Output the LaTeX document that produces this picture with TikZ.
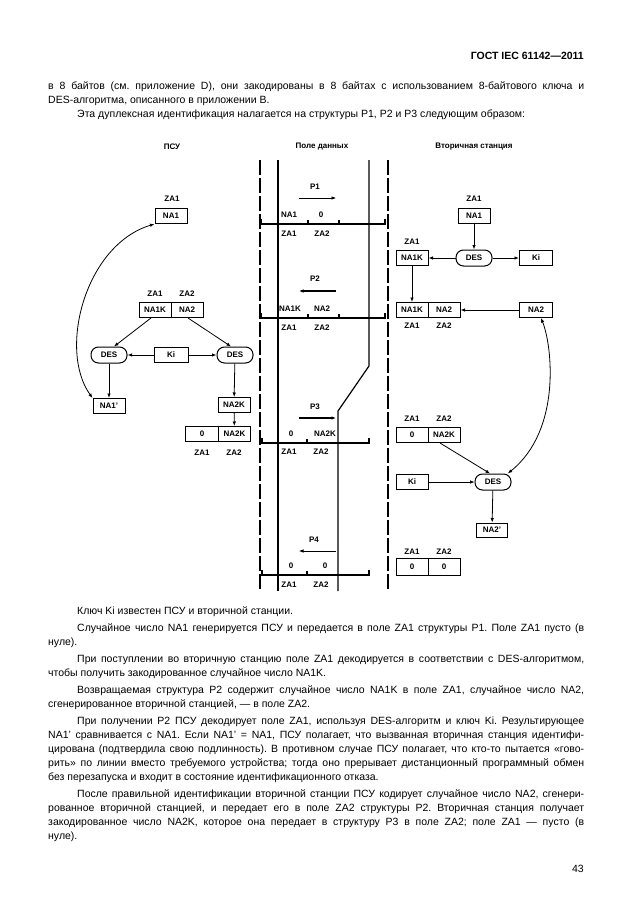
\documentclass[tikz,border=0pt]{standalone}
\usepackage{fontspec}
\setmainfont{Liberation Sans}
\usetikzlibrary{arrows.meta,positioning}
\frenchspacing

\newcommand{\lblfont}{\fontsize{8}{9}\selectfont\bfseries}
\newcommand{\txtfont}{\fontsize{10.5}{14}\selectfont}

\begin{document}
\begin{tikzpicture}[x=1pt, y=-1pt,
    fld/.style={draw, line width=1pt, minimum width=32pt, minimum height=15pt,
                inner sep=0pt, font=\lblfont},
    des/.style={draw, line width=1pt, rounded corners=7.5pt, minimum width=36pt,
                minimum height=16pt, inner sep=0pt, font=\lblfont},
    lbl/.style={inner sep=0pt, font=\lblfont},
    txt/.style={inner sep=0pt, text width=536pt, align=justify,
                font=\txtfont\setlength{\parindent}{0pt}},
    arrow/.style={-{Latex[length=4.5pt,width=3.5pt]}, line width=0.8pt},
    dblarrow/.style={{Latex[length=4.5pt,width=3.5pt]}-{Latex[length=4.5pt,width=3.5pt]}, line width=0.8pt},
    parrow/.style={-{Latex[length=4.5pt,width=3.5pt]}},
    vline/.style={line width=1.2pt},
    dline/.style={line width=1.2pt, dash pattern=on 15pt off 3pt},
    bar/.style={line width=1.2pt},
  ]
  \useasboundingbox (0,0) rectangle (630,913);

  % page text
  \node[inner sep=0pt, anchor=base east, font=\fontsize{10.5}{12}\selectfont\bfseries]
    (tHead) at (584,59) {ГОСТ IEC 61142—2011};
  \node[txt, anchor=base west] (tTop) at (48,89)
    {в 8 байтов (см. приложение D), они закодированы в 8 байтах с использованием 8-байтового ключа и\linebreak
     DES-алгоритма, описанного в приложении В.\par
     \hspace*{29pt}Эта дуплексная идентификация налагается на структуры P1, P2 и P3 следующим образом:};

  % headings
  \node[lbl] (hPsu) at (172,147) {ПСУ};
  \node[lbl] (hData) at (322,147) {Поле данных};
  \node[lbl] (hSec) at (474,147) {Вторичная станция};

  % data field lines
  \draw[dline] (260,160) -- (260,591);
  \draw[vline] (278,160) -- (278,591);
  \draw[vline] (369,160) -- (369,366) -- (338,411) -- (338,591);
  \draw[dline] (388,160) -- (388,591);

  % P1
  \node[lbl] (p1) at (315,187) {P1};
  \coordinate (p1a) at (299,198);
  \coordinate (p1b) at (336,198);
  \draw[parrow, line width=0.6pt] (p1a) -- (p1b);
  \draw[bar] (261,219) -- (261,224) -- (385,224) -- (385,219);
  \foreach \x in {308,339} \draw[bar] (\x,224) -- (\x,219.5);
  \node[lbl] (d1a) at (289,215) {NA1};
  \node[lbl] (d1b) at (321,215) {0};
  \node[lbl] (z1a) at (289,234) {ZA1};
  \node[lbl] (z1b) at (322,234) {ZA2};

  % P2
  \node[lbl] (p2) at (315,279) {P2};
  \coordinate (p2a) at (336,291);
  \coordinate (p2b) at (299,291);
  \draw[parrow, line width=1.3pt] (p2a) -- (p2b);
  \draw[bar] (261,313) -- (261,318) -- (385,318) -- (385,313);
  \foreach \x in {308,339} \draw[bar] (\x,318) -- (\x,313.5);
  \node[lbl] (d2a) at (290,309) {NA1K};
  \node[lbl] (d2b) at (322,309) {NA2};
  \node[lbl] (z2a) at (289,328) {ZA1};
  \node[lbl] (z2b) at (322,328) {ZA2};

  % P3
  \node[lbl] (p3) at (315,407) {P3};
  \coordinate (p3a) at (299,418);
  \coordinate (p3b) at (336,418);
  \draw[parrow, line width=1.3pt] (p3a) -- (p3b);
  \draw[bar] (262,438) -- (262,443) -- (369,443) -- (369,438);
  \draw[bar] (307,443) -- (307,438.5);
  \node[lbl] (d3a) at (291,434) {0};
  \node[lbl] (d3b) at (325,434) {NA2K};
  \node[lbl] (z3a) at (289,452) {ZA1};
  \node[lbl] (z3b) at (321,452) {ZA2};

  % P4
  \node[lbl] (p4) at (314,540) {P4};
  \coordinate (p4a) at (336,551);
  \coordinate (p4b) at (299,551);
  \draw[parrow, line width=0.6pt] (p4a) -- (p4b);
  \draw[bar] (262,570) -- (262,575) -- (369,575) -- (369,570);
  \draw[bar] (307,575) -- (307,570.5);
  \node[lbl] (d4a) at (291,566) {0};
  \node[lbl] (d4b) at (325,566) {0};
  \node[lbl] (z4a) at (289,585) {ZA1};
  \node[lbl] (z4b) at (321,585) {ZA2};

  % PSU side
  \node[lbl] (lz1) at (172,199) {ZA1};
  \node[fld] (lNA) at (171,216) {NA1};
  \node[lbl] (lz2a) at (155,294) {ZA1};
  \node[lbl] (lz2b) at (187,294) {ZA2};
  \node[fld] (lNAK) at (155,310) {NA1K};
  \node[fld] (lNAb) at (187,310) {NA2};
  \node[des] (lDESa) at (109,355) {DES};
  \node[fld, minimum width=34pt] (lKi) at (171,355) {Ki};
  \node[des] (lDESb) at (235,355) {DES};
  \node[fld] (lNAp) at (109,406) {NA1'};
  \node[fld] (lNAK2) at (234,405) {NA2K};
  \node[fld, minimum width=33pt] (lf0) at (202,434) {0};
  \node[fld] (lfK) at (234.5,434) {NA2K};
  \node[lbl] (lz3a) at (202,453) {ZA1};
  \node[lbl] (lz3b) at (234,453) {ZA2};

  \draw[arrow] ([xshift=-4pt]lNAK.south) -- ([xshift=5pt]lDESa.north);
  \draw[arrow] ([xshift=1pt]lNAb.south) -- ([xshift=-4pt]lDESb.north);
  \draw[arrow] (lKi) -- (lDESa);
  \draw[arrow] (lKi) -- (lDESb);
  \draw[arrow] (lDESa) -- (lNAp);
  \draw[arrow] (lDESb) -- (lNAK2);
  \draw[arrow] (lNAK2) -- (lfK);
  \draw[dblarrow] (lNA.south west) .. controls (85,245) and (58,350) .. (lNAp.north west);

  % secondary station side
  \node[lbl] (rz1) at (474,199) {ZA1};
  \node[fld] (rNA) at (474,216) {NA1};
  \node[lbl] (rz2) at (412,242) {ZA1};
  \node[fld] (rNAK) at (412,258) {NA1K};
  \node[des] (rDES) at (474,258) {DES};
  \node[fld, minimum width=33pt] (rKi) at (536,258) {Ki};
  \node[fld] (rF1) at (412,310) {NA1K};
  \node[fld] (rF2) at (444,310) {NA2};
  \node[lbl] (rz3a) at (412,326) {ZA1};
  \node[lbl] (rz3b) at (444,326) {ZA2};
  \node[fld, minimum width=33pt] (rNA2) at (536,310) {NA2};
  \node[lbl] (rz4a) at (412,419) {ZA1};
  \node[lbl] (rz4b) at (444,419) {ZA2};
  \node[fld] (rG1) at (412,435) {0};
  \node[fld] (rG2) at (444,435) {NA2K};
  \node[fld] (rKi2) at (412,482) {Ki};
  \node[des] (rDES2) at (493,482) {DES};
  \node[fld, minimum height=14pt, minimum width=31pt] (rNAp) at (492,530) {NA2'};
  \node[lbl] (rz5a) at (412,552) {ZA1};
  \node[lbl] (rz5b) at (444,552) {ZA2};
  \node[fld, minimum height=17pt] (rH1) at (412,567) {0};
  \node[fld, minimum height=17pt] (rH2) at (444,567) {0};

  \draw[arrow] (rNA) -- (rDES);
  \draw[arrow] (rDES) -- (rNAK);
  \draw[arrow] (rDES) -- (rKi);
  \draw[arrow] (rNAK) -- (rF1);
  \draw[arrow] (rNA2) -- (rF2);
  \draw[arrow] ([xshift=-4pt]rG2.south) -- ([xshift=-3pt]rDES2.north);
  \draw[arrow, line width=0.6pt] (rKi2) -- (rDES2);
  \draw[arrow] (rDES2) -- (rNAp);
  \draw[dblarrow] ([xshift=5pt]rNA2.south) .. controls (552,345) and (562,430) .. (rDES2.30);

  % page text below
  \node[txt, anchor=base west] (tBot) at (48,614)
    {\hspace*{29pt}Ключ Ki известен ПСУ и вторичной станции.\par\vspace{3pt}
     \hspace*{29pt}Случайное число NA1 генерируется ПСУ и передается в поле ZA1 структуры P1. Поле ZA1 пусто (в\linebreak
     нуле).\par\vspace{3pt}
     \hspace*{29pt}При поступлении во вторичную станцию поле ZA1 декодируется в соответствии с DES-алгоритмом,\linebreak
     чтобы получить закодированное случайное число NA1K.\par\vspace{3pt}
     \hspace*{29pt}Возвращаемая структура P2 содержит случайное число NA1K в поле ZA1, случайное число NA2,\linebreak
     сгенерированное вторичной станцией, — в поле ZA2.\par\vspace{3pt}
     \hspace*{29pt}При получении P2 ПСУ декодирует поле ZA1, используя DES-алгоритм и ключ Ki. Результирующее\linebreak
     NA1' сравнивается с NA1. Если NA1' = NA1, ПСУ полагает, что вызванная вторичная станция идентифи-\linebreak
     цирована (подтвердила свою подлинность). В противном случае ПСУ полагает, что кто-то пытается «гово-\linebreak
     рить» по линии вместо требуемого устройства; тогда оно прерывает дистанционный программный обмен\linebreak
     без перезапуска и входит в состояние идентификационного отказа.\par\vspace{3pt}
     \hspace*{29pt}После правильной идентификации вторичной станции ПСУ кодирует случайное число NA2, сгенери-\linebreak
     рованное вторичной станцией, и передает его в поле ZA2 структуры P2. Вторичная станция получает\linebreak
     закодированное число NA2K, которое она передает в структуру P3 в поле ZA2; поле ZA1 — пусто (в\linebreak
     нуле).};
  \node[inner sep=0pt, anchor=base east, font=\txtfont] (tPage) at (584,872) {43};
\end{tikzpicture}
\end{document}
